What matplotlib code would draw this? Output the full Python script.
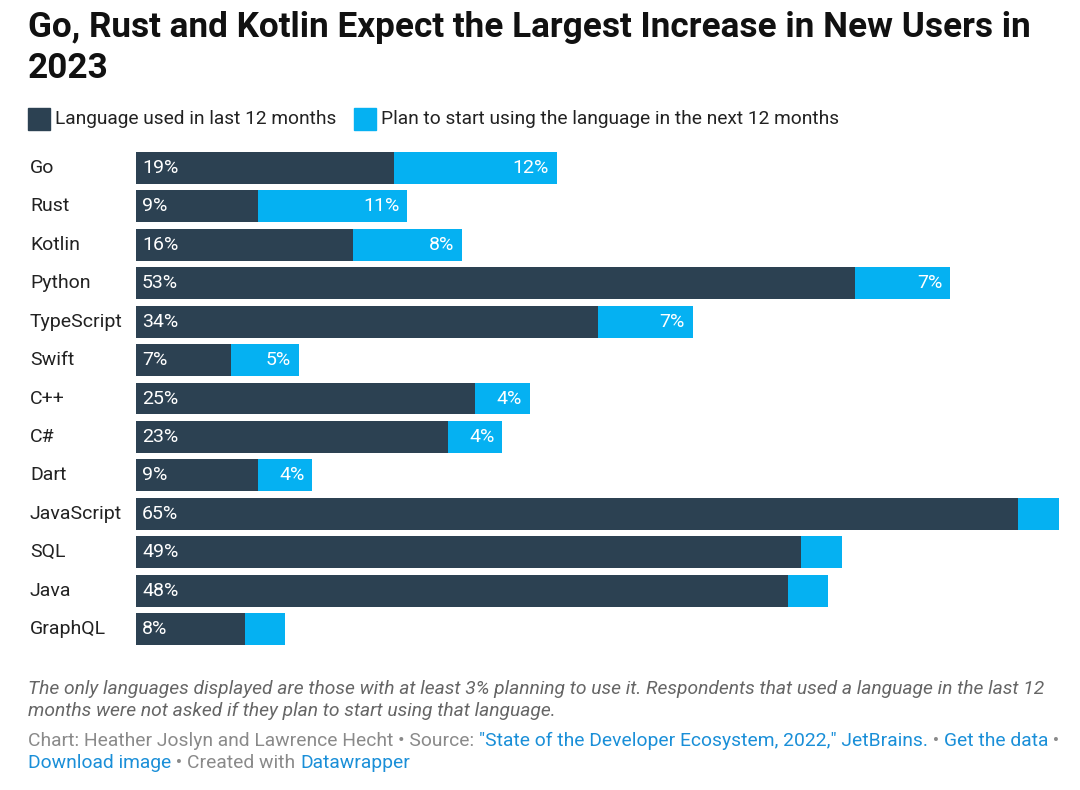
import matplotlib.pyplot as plt

plt.rcParams['font.family'] = ['Roboto', 'DejaVu Sans']

# data
languages = ['Go', 'Rust', 'Kotlin', 'Python', 'TypeScript', 'Swift', 'C++', 'C#',
             'Dart', 'JavaScript', 'SQL', 'Java', 'GraphQL']
used = [19, 9, 16, 53, 34, 7, 25, 23, 9, 65, 49, 48, 8]
plan = [12, 11, 8, 7, 7, 5, 4, 4, 4, 3, 3, 3, 3]
show_plan_label = [True, True, True, True, True, True, True, True, True, False, False, False, False]

dark = '#2c4152'
light = '#05b1f2'

W, H = 1080, 790
fig = plt.figure(figsize=(W / 100, H / 100), dpi=100)
ax = fig.add_axes([136 / W, 1 - 648.2 / H, 923 / W, 499.4 / H])

y = range(len(languages))
ax.barh(y, used, height=0.83, color=dark)
ax.barh(y, plan, left=used, height=0.83, color=light)
ax.set_xlim(0, 68)
ax.set_ylim(len(languages) - 0.5, -0.5)
ax.axis('off')

for i, lang in enumerate(languages):
    ax.annotate(lang, xy=(0, i), xycoords='data', xytext=(-106, 0), textcoords='offset pixels',
                ha='left', va='center', fontsize=14, color='#222222')
    ax.annotate(f'{used[i]}%', xy=(0, i), xytext=(6, 0), textcoords='offset pixels',
                ha='left', va='center', fontsize=14, color='white')
    if show_plan_label[i]:
        ax.annotate(f'{plan[i]}%', xy=(used[i] + plan[i], i), xytext=(-8, 0),
                    textcoords='offset pixels', ha='right', va='center',
                    fontsize=14, color='white')

# title
fig.text(28 / W, 1 - 27 / H, 'Go, Rust and Kotlin Expect the Largest Increase in New Users in',
         fontsize=25.3, fontweight='bold', ha='left', va='center', color='#111111')
fig.text(28 / W, 1 - 68 / H, '2023', fontsize=25.3, fontweight='bold', ha='left', va='center',
         color='#111111')

# legend
fig.patches.append(plt.Rectangle((28 / W, 1 - 130 / H), 22 / W, 22 / H, color=dark,
                                 transform=fig.transFigure))
fig.text(55 / W, 1 - 119 / H, 'Language used in last 12 months', fontsize=13.8, ha='left',
         va='center', color='#222222')
fig.patches.append(plt.Rectangle((354 / W, 1 - 130 / H), 22 / W, 22 / H, color=light,
                                 transform=fig.transFigure))
fig.text(381 / W, 1 - 119 / H, 'Plan to start using the language in the next 12 months',
         fontsize=13.8, ha='left', va='center', color='#222222')

# notes
fig.text(28 / W, 1 - 689 / H,
         'The only languages displayed are those with at least 3% planning to use it. '
         'Respondents that used a language in the last 12',
         fontsize=13.9, style='italic', color='#666666', ha='left', va='center')
fig.text(28 / W, 1 - 711 / H,
         'months were not asked if they plan to start using that language.',
         fontsize=13.9, style='italic', color='#666666', ha='left', va='center')

gray = '#8a8a8a'
blue = '#1a8fd8'
renderer = fig.canvas.get_renderer()


def text_run(pieces, x0, yy):
    x = x0
    for s, c in pieces:
        t = fig.text(x / W, 1 - yy / H, s, fontsize=13.9, color=c, ha='left', va='center')
        bb = t.get_window_extent(renderer=renderer)
        x += bb.width


text_run([('Chart: Heather Joslyn and Lawrence Hecht • Source: ', gray),
          ('"State of the Developer Ecosystem, 2022," JetBrains.', blue),
          (' • ', gray), ('Get the data', blue), (' •', gray)], 28, 741)
text_run([('Download image', blue), (' • Created with ', gray), ('Datawrapper', blue)], 28, 763)

fig.savefig('out.png', dpi=100, facecolor='white')
